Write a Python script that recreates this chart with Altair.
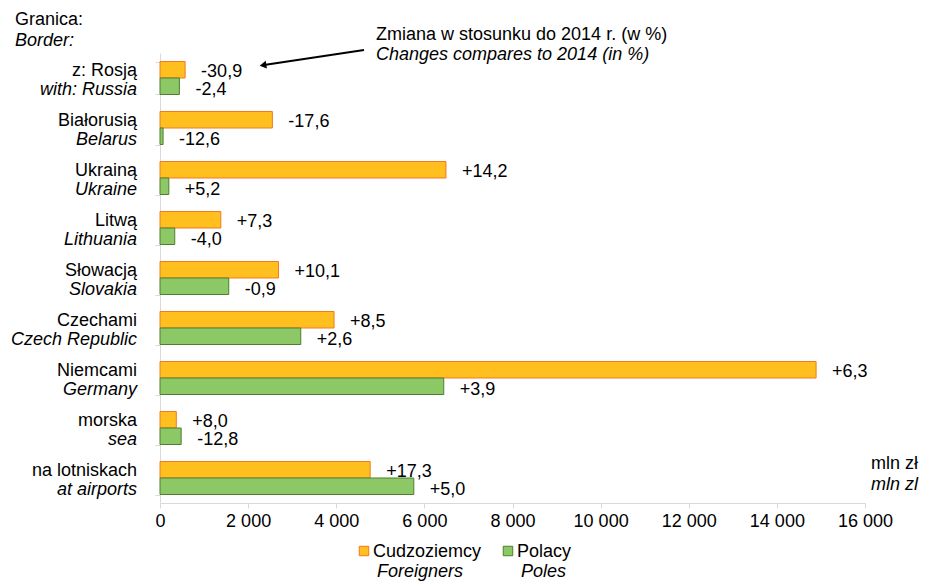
import altair as alt
import pandas as pd

# ---------------- data ----------------
CATEGORIES_PL = ["z: Rosją", "Białorusią", "Ukrainą", "Litwą", "Słowacją",
                 "Czechami", "Niemcami", "morska", "na lotniskach"]
CATEGORIES_EN = ["with: Russia", "Belarus", "Ukraine", "Lithuania", "Slovakia",
                 "Czech Republic", "Germany", "sea", "at airports"]
FOREIGNERS = [570, 2550, 6490, 1380, 2690, 3950, 14890, 370, 4770]
POLES = [440, 70, 200, 335, 1560, 3195, 6440, 480, 5760]
CHANGE_FOREIGNERS = ["-30,9", "-17,6", "+14,2", "+7,3", "+10,1", "+8,5", "+6,3", "+8,0", "+17,3"]
CHANGE_POLES = ["-2,4", "-12,6", "+5,2", "-4,0", "-0,9", "+2,6", "+3,9", "-12,8", "+5,0"]
SERIES_PL = ["Cudzoziemcy", "Polacy"]
SERIES_EN = ["Foreigners", "Poles"]
X_TICKS = [0, 2000, 4000, 6000, 8000, 10000, 12000, 14000, 16000]
HEADER = ["Granica:", " Border:"]
NOTE = ["Zmiana w stosunku do 2014 r. (w %)", "Changes compares to 2014 (in %)"]
UNIT = ["mln zł", "mln zl"]

# ---------------- tables ----------------
rows = []
for i, cat in enumerate(CATEGORIES_PL):
    rows.append({"cat": cat, "series": SERIES_PL[0], "value": FOREIGNERS[i], "change": CHANGE_FOREIGNERS[i]})
    rows.append({"cat": cat, "series": SERIES_PL[1], "value": POLES[i], "change": CHANGE_POLES[i]})
df = pd.DataFrame(rows)
cats_df = pd.DataFrame({"cat": CATEGORIES_PL, "en": CATEGORIES_EN})
one = pd.DataFrame({"k": [0]})

FONT = "Liberation Sans"
FS = 18
FILLS = ["#FFBF1F", "#8CC866"]
STROKES = ["#F07A22", "#4F7F2E"]
GREY = "#d9d9d9"

y_enc = alt.Y(
    "cat:N", sort=CATEGORIES_PL,
    scale=alt.Scale(domain=CATEGORIES_PL, paddingInner=0.34, paddingOuter=0.17),
    axis=alt.Axis(labels=False, title=None, tickBand="extent", domainColor=GREY,
                  tickColor=GREY, tickSize=5, grid=False, domainWidth=1),
)
x_enc = alt.X(
    "value:Q",
    scale=alt.Scale(domain=[0, 16000], nice=False),
    axis=alt.Axis(values=X_TICKS, labelExpr="replace(format(datum.value, ','), ',', ' ')",
                  title=None, grid=False, domainColor=GREY, tickColor=GREY, tickSize=5,
                  labelFlush=False, labelFont=FONT, labelFontSize=FS, labelColor="black",
                  labelPadding=4),
)
yoff = alt.YOffset("series:N", sort=SERIES_PL,
                   scale=alt.Scale(domain=SERIES_PL, paddingInner=0, paddingOuter=0))
color = alt.Color("series:N", scale=alt.Scale(domain=SERIES_PL, range=FILLS), legend=None)
stroke = alt.Stroke("series:N", scale=alt.Scale(domain=SERIES_PL, range=STROKES), legend=None)

bars = alt.Chart(df).mark_bar(strokeWidth=1).encode(
    y=y_enc, x=x_enc, yOffset=yoff, color=color, stroke=stroke)

lab_f = alt.Chart(df).transform_filter(alt.datum.series == SERIES_PL[0]).mark_text(
    align="left", baseline="middle", dx=16, dy=2, font=FONT, fontSize=FS, color="black"
).encode(y=y_enc, x=x_enc, yOffset=yoff, text="change:N")
lab_p = alt.Chart(df).transform_filter(alt.datum.series == SERIES_PL[1]).mark_text(
    align="left", baseline="middle", dx=16, dy=4, font=FONT, fontSize=FS, color="black"
).encode(y=y_enc, x=x_enc, yOffset=yoff, text="change:N")

ylab_pl = alt.Chart(cats_df).mark_text(
    align="right", baseline="alphabetic", dy=-2, font=FONT, fontSize=FS, color="black"
).encode(y=y_enc, x=alt.value(-23), text="cat:N")
ylab_en = alt.Chart(cats_df).mark_text(
    align="right", baseline="alphabetic", dy=17, font=FONT, fontSize=FS, fontStyle="italic", color="black"
).encode(y=y_enc, x=alt.value(-23), text="en:N")


def txt(s, x, y, italic=False, align="left"):
    kw = dict(align=align, baseline="alphabetic", font=FONT, fontSize=FS, color="black")
    if italic:
        kw["fontStyle"] = "italic"
    return alt.Chart(one).mark_text(**kw).encode(x=alt.value(x), y=alt.value(y), text=alt.value(s))


header1 = txt(HEADER[0], -145, -28)
header2 = txt(HEADER[1], -145, -7, italic=True)
note1 = txt(NOTE[0], 216, -13)
note2 = txt(NOTE[1], 216, 7, italic=True)
unit1 = txt(UNIT[0], 711, 416)
unit2 = txt(UNIT[1], 711, 437, italic=True)

arrow = alt.Chart(one).mark_rule(color="black", strokeWidth=2).encode(
    x=alt.value(204), y=alt.value(-3), x2=alt.value(104), y2=alt.value(12))
head = alt.Chart(one).mark_point(shape="triangle-up", filled=True, color="black",
                                 size=60, angle=261, opacity=1).encode(
    x=alt.value(103), y=alt.value(12.2))


def legend_item(i, xsq):
    sq = alt.Chart(one).mark_square(size=90, fill=FILLS[i], stroke=STROKES[i],
                                    strokeWidth=1, opacity=1).encode(
        x=alt.value(xsq), y=alt.value(498))
    t1 = txt(SERIES_PL[i], xsq + 9, 504)
    t2 = txt(SERIES_EN[i], xsq + 13, 524, italic=True)
    return [sq, t1, t2]


legend_layers = legend_item(0, 204) + legend_item(1, 348)

chart = alt.layer(
    bars, lab_f, lab_p, ylab_pl, ylab_en,
    header1, header2, note1, note2, unit1, unit2, arrow, head,
    *legend_layers
).properties(
    width=705, height=450,
    autosize=alt.AutoSizeParams(type="none"),
    padding={"left": 152, "top": 45, "right": 54, "bottom": 80},
).configure_view(stroke=None)

chart.save("out.html", embed_options={"renderer": "svg", "actions": False})
